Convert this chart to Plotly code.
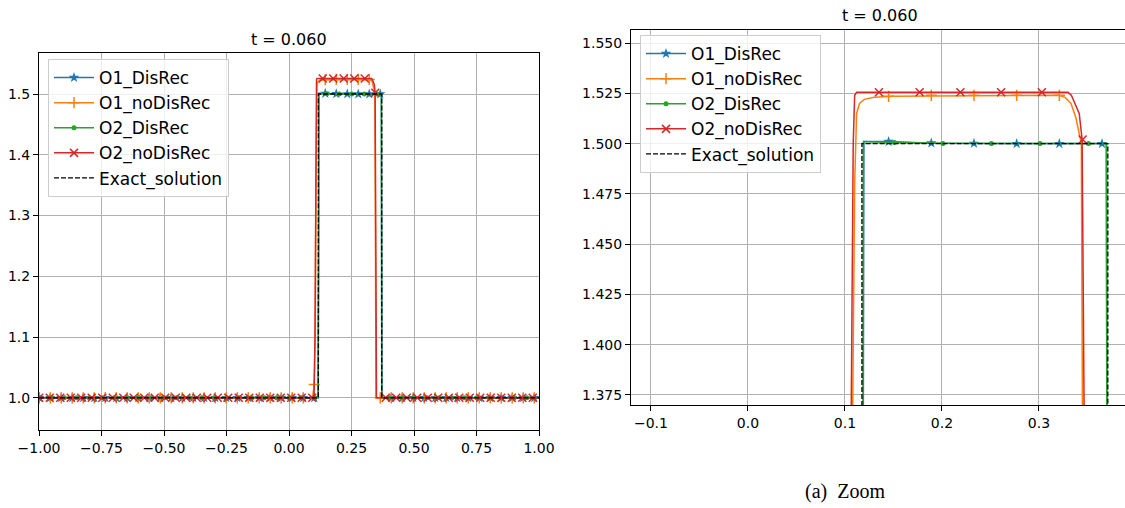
import plotly.graph_objects as go

# ---------------- data ----------------
series_names = ["O1_DisRec", "O1_noDisRec", "O2_DisRec", "O2_noDisRec", "Exact_solution"]

# Exact solution (step)
exact_x = [-1.0, 0.1175, 0.1175, 0.371, 0.371, 1.0]
exact_y = [1.0, 1.0, 1.5, 1.5, 1.0, 1.0]

# O1_DisRec (blue)
o1d_x = [-1.0, 0.116, 0.1182, 0.1195, 0.145, 0.19, 0.3695, 0.3702, 0.3715, 1.0]
o1d_y = [1.0, 1.0, 1.2, 1.501, 1.501, 1.5002, 1.5, 1.3, 1.0, 1.0]

# O1_noDisRec (orange)
o1n_x = [-1.0, 0.094, 0.101, 0.105, 0.108, 0.110, 0.112, 0.115, 0.120, 0.130, 0.150,
         0.250, 0.320, 0.327, 0.333, 0.338, 0.341, 0.3437, 0.3448, 0.348, 1.0]
o1n_y = [1.0, 1.0, 1.022, 1.12, 1.37, 1.48, 1.515, 1.520, 1.522, 1.523, 1.5235,
         1.524, 1.524, 1.523, 1.520, 1.513, 1.506, 1.500, 1.37, 1.0, 1.0]

# O2_DisRec (green)
o2d_x = [-1.0, 0.117, 0.1185, 0.119, 0.130, 0.200, 0.3695, 0.3700, 0.371, 1.0]
o2d_y = [1.0, 1.0, 1.3, 1.501, 1.5008, 1.5002, 1.5, 1.3, 1.0, 1.0]

# O2_noDisRec (red)
o2n_x = [-1.0, 0.100, 0.104, 0.1065, 0.1085, 0.110, 0.112, 0.330, 0.3335, 0.3415,
         0.3445, 0.3465, 0.350, 1.0]
o2n_y = [1.0, 1.0, 1.10, 1.37, 1.50, 1.524, 1.5255, 1.5255, 1.524, 1.515,
         1.502, 1.37, 1.0, 1.0]

# marker positions (every n-th grid cell as seen in the picture)
o1d_mx = [-0.999, -0.955, -0.911, -0.867, -0.823, -0.779, -0.735, -0.691, -0.647, -0.603,
          -0.559, -0.515, -0.471, -0.427, -0.383, -0.339, -0.295, -0.251, -0.207, -0.163,
          -0.119, -0.075, -0.031, 0.013, 0.057, 0.101, 0.145, 0.189, 0.233, 0.277,
          0.321, 0.365, 0.409, 0.453, 0.497, 0.541, 0.585, 0.629, 0.673, 0.717,
          0.761, 0.805, 0.849, 0.893, 0.937, 0.981]
o1d_my = [1.0] * 26 + [1.501, 1.5003, 1.5001, 1.5, 1.5, 1.5] + [1.0] * 14

o1n_mx = list(o1d_mx)
o1n_my = [1.0] * 25 + [1.022, 1.5235, 1.524, 1.524, 1.524, 1.524] + [1.0] * 15

o2d_mx = [-0.999, -0.949, -0.899, -0.849, -0.799, -0.749, -0.699, -0.649, -0.599, -0.549,
          -0.499, -0.449, -0.399, -0.349, -0.299, -0.249, -0.199, -0.149, -0.099, -0.049,
          0.001, 0.051, 0.101, 0.151, 0.201, 0.251, 0.301, 0.351, 0.401, 0.451,
          0.501, 0.551, 0.601, 0.651, 0.701, 0.751, 0.801, 0.851, 0.901, 0.951]
o2d_my = [1.0] * 23 + [1.5005, 1.5, 1.5, 1.5, 1.5] + [1.0] * 12

o2n_mx = [-0.999, -0.957, -0.915, -0.873, -0.831, -0.789, -0.747, -0.705, -0.663, -0.621,
          -0.579, -0.537, -0.495, -0.453, -0.411, -0.369, -0.327, -0.285, -0.243, -0.201,
          -0.159, -0.117, -0.075, -0.033, 0.009, 0.051, 0.093, 0.135, 0.177, 0.219,
          0.261, 0.303, 0.345, 0.387, 0.429, 0.471, 0.513, 0.555, 0.597, 0.639,
          0.681, 0.723, 0.765, 0.807, 0.849, 0.891, 0.933, 0.975]
o2n_my = [1.0] * 27 + [1.5255, 1.5255, 1.5255, 1.5255, 1.5255, 1.502] + [1.0] * 15

title_text = "t = 0.060"
caption_text = "(a)\u00a0\u00a0Zoom"

left_yticks = [1.0, 1.1, 1.2, 1.3, 1.4, 1.5]
left_xticks = [-1.0, -0.75, -0.5, -0.25, 0.0, 0.25, 0.5, 0.75, 1.0]
right_yticks = [1.375, 1.4, 1.425, 1.45, 1.475, 1.5, 1.525, 1.55]
right_xticks = [-0.1, 0.0, 0.1, 0.2, 0.3]

# ---------------- styling ----------------
W, H = 1125, 508
colors = ["#1f77b4", "#ff7f0e", "#2ca02c", "#d62728", "black"]
symbols = ["star", "cross-thin", "circle", "x-thin", None]
msizes = [8, 8, 5, 8, 0]

lines = [(o1d_x, o1d_y), (o1n_x, o1n_y), (o2d_x, o2d_y), (o2n_x, o2n_y)]
marks = [(o1d_mx, o1d_my), (o1n_mx, o1n_my), (o2d_mx, o2d_my), (o2n_mx, o2n_my)]

def marker_style(i):
    if symbols[i] in ("cross-thin", "x-thin"):
        return dict(symbol=symbols[i], size=msizes[i], color=colors[i],
                    line=dict(color=colors[i], width=1.5))
    return dict(symbol=symbols[i], size=msizes[i], color=colors[i],
                line=dict(width=0))

fig = go.Figure()

axes = [("x", "y", "legend"), ("x2", "y2", "legend2")]
for xa, ya, lg in axes:
    for i in range(4):
        lx, ly = lines[i]
        mx, my = marks[i]
        fig.add_trace(go.Scatter(x=lx, y=ly, mode="lines", xaxis=xa, yaxis=ya,
                                 line=dict(color=colors[i], width=1.5),
                                 showlegend=False, hoverinfo="skip"))
        fig.add_trace(go.Scatter(x=mx, y=my, mode="markers", xaxis=xa, yaxis=ya,
                                 marker=marker_style(i),
                                 showlegend=False, hoverinfo="skip"))
    fig.add_trace(go.Scatter(x=exact_x, y=exact_y, mode="lines", xaxis=xa, yaxis=ya,
                             line=dict(color="black", width=1.3, dash="5px,2px"),
                             showlegend=False, hoverinfo="skip"))
    # legend entries
    for i in range(5):
        if i < 4:
            fig.add_trace(go.Scatter(x=[None], y=[None], mode="lines+markers",
                                     xaxis=xa, yaxis=ya, name=series_names[i],
                                     line=dict(color=colors[i], width=1.5),
                                     marker=marker_style(i), legend=lg))
        else:
            fig.add_trace(go.Scatter(x=[None], y=[None], mode="lines",
                                     xaxis=xa, yaxis=ya, name=series_names[i],
                                     line=dict(color="black", width=1.3, dash="5px,2px"),
                                     legend=lg))

font_main = "DejaVu Sans"
axis_common = dict(showgrid=True, gridcolor="#b0b0b0", gridwidth=1,
                   showline=True, linecolor="black", linewidth=1,
                   ticks="outside", ticklen=5, tickwidth=1, tickcolor="black",
                   tickfont=dict(family=font_main, size=14, color="black"),
                   zeroline=False, automargin=False)

legend_common = dict(bgcolor="rgba(255,255,255,0.8)", bordercolor="#cccccc", borderwidth=1,
                     font=dict(family=font_main, size=17, color="black"),
                     xanchor="left", yanchor="top", tracegroupgap=0, itemwidth=40)

fig.update_layout(
    width=W, height=H,
    margin=dict(l=0, r=0, t=0, b=0),
    paper_bgcolor="white", plot_bgcolor="white",
    font=dict(family=font_main, color="black"),
    xaxis=dict(domain=[39 / W, 539 / W], range=[-1.0, 1.0], tickmode="array",
               tickvals=left_xticks, tickformat=".2f", mirror=True, anchor="y",
               **axis_common),
    yaxis=dict(domain=[1 - 430 / H, 1 - 53 / H], range=[0.947, 1.5675], tickmode="array",
               tickvals=left_yticks, tickformat=".1f", mirror=True, anchor="x",
               **axis_common),
    xaxis2=dict(domain=[631 / W, 1.0], range=[-0.1206, 0.3887], tickmode="array",
                tickvals=right_xticks, tickformat=".1f", mirror=True, anchor="y2",
                **axis_common),
    yaxis2=dict(domain=[1 - 405 / H, 1 - 30 / H], range=[1.370, 1.5565], tickmode="array",
                tickvals=right_yticks, tickformat=".3f", mirror=False, anchor="x2",
                **axis_common),
    legend=dict(x=48 / W, y=1 - 59 / H, **legend_common),
    legend2=dict(x=640 / W, y=1 - 35 / H, **legend_common),
    annotations=[
        dict(text=title_text, x=289 / W, y=1 - 40 / H, xref="paper", yref="paper",
             showarrow=False, xanchor="center", yanchor="middle",
             font=dict(family=font_main, size=16, color="black")),
        dict(text=title_text, x=880 / W, y=1 - 16 / H, xref="paper", yref="paper",
             showarrow=False, xanchor="center", yanchor="middle",
             font=dict(family=font_main, size=16, color="black")),
        dict(text=caption_text, x=845 / W, y=1 - 491 / H, xref="paper", yref="paper",
             showarrow=False, xanchor="center", yanchor="middle",
             font=dict(family="Liberation Serif", size=20, color="black")),
    ],
)

fig.write_html("out.html")
